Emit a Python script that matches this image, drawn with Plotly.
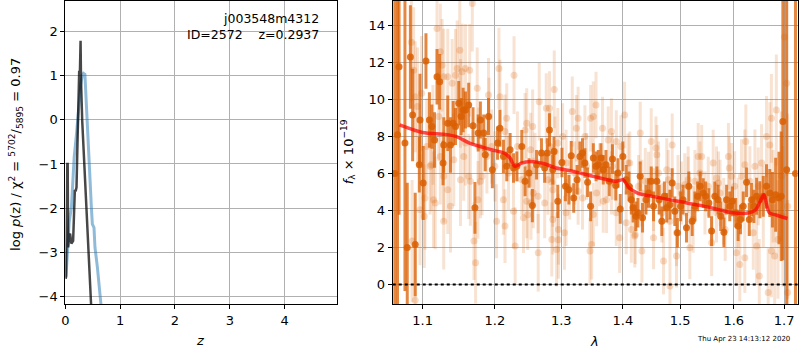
import math
import plotly.graph_objects as go

# ---------------- data: left panel (redshift PDF / chi2) ----------------
pz_blue_z = [0.01, 0.04, 0.07, 0.11, 0.16, 0.203, 0.246, 0.28, 0.307, 0.33, 0.356, 0.387,
             0.42, 0.448, 0.475, 0.492, 0.51, 0.522, 0.54, 0.584, 0.645, 0.70]
pz_blue = [-3.57, -2.8, -2.3, -1.98, -0.85, -0.32, 0.43, 0.8, 1.0, 1.05, 1.03, 0.14,
           -0.7, -1.53, -2.0, -2.36, -2.4, -2.44, -2.89, -3.34, -4.13, -4.9]
pz_dark_z = [0.005, 0.012, 0.035, 0.042, 0.05, 0.07, 0.086, 0.11, 0.141, 0.16, 0.172, 0.19,
             0.203, 0.225, 0.252, 0.262, 0.277, 0.285, 0.295, 0.307, 0.467, 0.50]
pz_dark = [-3.6, -3.53, -1.0, -1.0, -2.89, -2.6, -2.58, -2.8, -2.74, -2.2, -1.61, -1.6,
           -1.53, -0.3, 1.11, 0.9, 1.79, 0.9, 0.4, -0.02, -4.13, -4.9]
left_xticks = [0, 1, 2, 3, 4]
left_yticks = [-4, -3, -2, -1, 0, 1, 2]

# ---------------- data: right panel (spectrum) ----------------
dark_wave = [
    1.0639, 1.0673, 1.0693, 1.0769, 1.0799, 1.0840, 1.0869, 1.0903, 1.0957, 1.0966,
    1.1008, 1.1045, 1.1091, 1.1124, 1.1160, 1.1193, 1.1229, 1.1275, 1.1284, 1.1339,
    1.1376, 1.1413, 1.1445, 1.1490, 1.1523, 1.1551, 1.1583, 1.1628, 1.1689, 1.1716,
    1.1762, 1.1793, 1.1840, 1.1862, 1.1909, 1.1964, 1.2040, 1.2074, 1.2125, 1.2174,
    1.2223, 1.2273, 1.2322, 1.2396, 1.2445, 1.2504, 1.2555, 1.2619, 1.2693, 1.2742,
    1.2782, 1.2816, 1.2867, 1.2886, 1.2945, 1.3010, 1.3065, 1.3119, 1.3157, 1.3196,
    1.3250, 1.3294, 1.3336, 1.3375, 1.3418, 1.3467, 1.3511, 1.3555, 1.3592, 1.3636,
    1.3674, 1.3718, 1.3772, 1.3826, 1.3881, 1.3919, 1.3956, 1.4000, 1.4057, 1.4104,
    1.4144, 1.4174, 1.4221, 1.4256, 1.4296, 1.4336, 1.4395, 1.4440, 1.4487, 1.4527,
    1.4586, 1.4626, 1.4673, 1.4718, 1.4760, 1.4817, 1.4857, 1.4904, 1.4951, 1.5009,
    1.5052, 1.5115, 1.5158, 1.5219, 1.5269, 1.5319, 1.5367, 1.5423, 1.5468, 1.5529,
    1.5579, 1.5640, 1.5701, 1.5751, 1.5812, 1.5863, 1.5924, 1.5974, 1.6038, 1.6085,
    1.6130, 1.6184, 1.6249, 1.6302, 1.6348, 1.6393, 1.6447, 1.6512, 1.6579, 1.6644,
    1.6710, 1.6763, 1.6829, 1.6896, 1.6941, 1.6975, 1.7053, 1.7235]
dark_flux = [
    6.0, 8.1, 11.77, 7.65, 2.0, 12.3, 9.17, 2.17, 6.48, 8.9,
    5.49, 12.08, 8.9, 8.54, 7.82, 11.23, 10.96, 6.57, 7.55, 8.72,
    7.55, 8.72, 8.54, 9.8, 9.08, 9.44, 9.44, 9.71, 8.58, 4.15,
    8.19, 8.9, 8.19, 7.02, 9.08, 6.21, 7.65, 8.45, 6.93, 6.39,
    7.29, 6.3, 6.39, 7.46, 5.58, 6.03, 4.27, 6.48, 7.11, 6.3,
    7.11, 8.36, 6.21, 7.19, 4.5, 6.6, 5.31, 5.13, 6.96, 4.68,
    5.67, 6.93, 7.11, 6.57, 5.53, 4.23, 6.84, 6.39, 6.48, 6.84,
    6.21, 6.48, 5.58, 6.79, 5.35, 6.03, 4.09, 6.93, 5.67, 5.31,
    4.59, 4.15, 3.69, 3.88, 5.85, 3.61, 4.59, 4.95, 5.58, 4.23,
    5.58, 4.59, 3.42, 4.77, 4.15, 4.32, 5.49, 3.96, 2.8, 4.23,
    4.59, 3.07, 5.31, 3.42, 4.23, 4.77, 5.31, 4.95, 4.77, 4.41,
    2.89, 4.77, 4.59, 3.69, 2.83, 4.59, 4.23, 4.5, 3.88, 3.16,
    3.52, 4.23, 5.53, 3.52, 4.59, 4.23, 4.77, 4.59, 4.77, 5.31,
    4.95, 4.59, 4.86, 4.68, 4.77, 8.81, 6.21, 6.0]
dark_err = [
    12, 10, 8, 8, 3.5, 2.8, 2.5, 2.8, 1.5, 2.5,
    2.0, 1.5, 1.5, 1.2, 1.5, 1.5, 1.5, 1.2, 1.5, 1.5,
    1.5, 1.2, 1.0, 1.2, 1.0, 1.2, 1.0, 1.2, 1.0, 1.4,
    1.0, 1.0, 1.0, 0.9, 1.0, 1.0, 0.9, 1.0, 0.9, 0.8,
    0.9, 0.8, 0.8, 0.9, 0.8, 0.8, 0.9, 0.8, 0.8, 0.8,
    0.8, 0.9, 0.8, 0.8, 0.9, 0.8, 0.8, 0.8, 0.8, 0.8,
    0.8, 0.8, 0.8, 0.8, 0.8, 0.8, 0.8, 0.8, 0.8, 0.8,
    0.8, 0.8, 0.8, 0.8, 0.8, 0.8, 0.8, 0.8, 0.8, 0.8,
    0.8, 0.8, 0.8, 0.8, 0.8, 0.8, 0.8, 0.8, 0.8, 0.8,
    0.8, 0.8, 0.8, 0.8, 0.8, 0.8, 0.8, 0.8, 0.8, 0.8,
    0.8, 0.8, 0.8, 0.8, 0.8, 0.8, 0.8, 0.8, 0.8, 0.8,
    0.8, 0.8, 0.8, 0.8, 0.8, 0.8, 0.8, 0.8, 0.8, 0.8,
    0.8, 0.8, 0.8, 0.9, 0.9, 0.9, 1.0, 1.0, 1.1, 1.2,
    1.3, 1.5, 2.0, 2.5, 3.5, 7.5, 10, 12]

light_wave = [
    1.0853, 1.0882, 1.0903, 1.0932, 1.0987, 1.1055, 1.1114, 1.1138, 1.1032, 1.0966,
    1.0862, 1.0903, 1.1022, 1.1146, 1.1169, 1.1193, 1.1238, 1.1262, 1.1284, 1.1215,
    1.1284, 1.1284, 1.1339, 1.1376, 1.1339, 1.1399, 1.1445, 1.1468, 1.1504, 1.1514,
    1.1514, 1.1537, 1.1583, 1.1583, 1.1642, 1.1652, 1.1628, 1.1679, 1.1725, 1.1758,
    1.1748, 1.1909, 1.1917, 1.2059, 1.2074, 1.2173, 1.2281, 1.2148, 1.2445, 1.2470,
    1.2559, 1.2659, 1.2767, 1.2816, 1.2890, 1.1793, 1.1817, 1.2025, 1.2125, 1.2148,
    1.2273, 1.2297, 1.2421, 1.2470, 1.2569, 1.2643, 1.2643, 1.2742, 1.2867, 1.2867,
    1.1702, 1.1955, 1.2331, 1.2529, 1.2826, 1.2926, 1.2955, 1.2485, 1.2534, 1.2945,
    1.3021, 1.3173, 1.3266, 1.3238, 1.3375, 1.3467, 1.3511, 1.3555, 1.3662, 1.3755,
    1.3809, 1.3890, 1.4030, 1.4117, 1.2955, 1.3049, 1.3075, 1.3131, 1.3266, 1.3336,
    1.3457, 1.3483, 1.3511, 1.3564, 1.3674, 1.3728, 1.3809, 1.3890, 1.3946, 1.4057,
    1.4144, 1.4203, 1.2852, 1.2901, 1.4296, 1.4487, 1.4569, 1.4586, 1.4857, 1.5330,
    1.5394, 1.5609, 1.4760, 1.4440, 1.5083, 1.4325, 1.4527, 1.4673, 1.4817, 1.4934,
    1.4934, 1.4703, 1.4325, 1.4209, 1.4527, 1.5237, 1.5176, 1.5580, 1.5455, 1.5672,
    1.5022, 1.5145, 1.5269, 1.4817, 1.5897, 1.5915, 1.5958, 1.6235, 1.6215, 1.6413,
    1.6545, 1.6644, 1.6710, 1.6743, 1.6842, 1.7006, 1.7053, 1.6941, 1.7073, 1.5807,
    1.5836, 1.6085, 1.6051, 1.6117, 1.6215, 1.6381, 1.6447, 1.6500, 1.6579, 1.6678,
    1.6743, 1.6808, 1.6875, 1.6975, 1.7073, 1.5709, 1.2852, 1.3075, 1.3212, 1.3402,
    1.3614, 1.3826, 1.3967, 1.4087, 1.4266, 1.4383, 1.4614, 1.4788, 1.4962, 1.5145,
    1.5362, 1.5516, 1.5672, 1.5739, 1.6018, 1.6150, 1.6314, 1.6480, 1.6777, 1.1771,
    1.1886, 1.2000, 1.2199, 1.2396, 1.2594, 1.2793, 1.1238, 1.1421, 1.1559, 1.1101]
light_flux = [
    13.1, 11.59, 10.16, 9.62, 10.34, 7.46, 6.48, 8.09, 4.68, 4.05,
    2.35, -0.85, 3.69, 4.59, 4.41, 13.84, 12.58, 11.86, 11.23, 9.08,
    5.85, 3.42, 5.13, 4.23, 11.23, 10.88, 11.32, 11.68, 12.67, 9.8,
    5.67, 11.5, 11.68, 7.65, 11.59, 5.58, 5.85, 15.2, 1.18, 4.58,
    10.61, 10.25, 9.08, 11.68, 10.16, 8.99, 11.32, 8.27, 8.36, 8.72,
    8.54, 9.89, 9.53, 9.53, 10.55, 5.58, 5.85, 3.42, 4.59, 3.16,
    3.96, 2.08, 3.61, 4.5, 4.95, 4.77, 1.72, 4.41, 5.13, 3.52,
    2.35, 7.46, 7.46, 7.29, 7.46, 1.9, 2.42, 3.77, 4.43, 7.65,
    8.0, 9.35, 8.99, 8.45, 8.0, 8.99, 9.08, 9.71, 8.45, 7.82,
    8.27, 7.73, 9.17, 6.57, 2.98, 2.8, 3.88, 5.22, 5.04, 4.68,
    1.81, 2.17, 3.79, 4.95, 4.5, 4.59, 5.49, 3.88, 2.53, 3.34,
    2.98, 2.62, 2.44, 7.19, 8.19, 7.73, 7.38, 7.02, 7.55, 6.93,
    6.93, 6.57, 6.21, 5.58, 5.4, 4.95, 4.59, 3.88, 3.42, 2.8,
    1.54, 1.27, 1.81, 2.71, 2.53, 3.52, 1.99, 2.26, 4.41, 3.88,
    4.95, 5.31, 5.58, -0.08, 6.93, 6.3, 5.85, 7.73, 6.48, 6.39,
    6.57, 8.0, 7.55, 8.99, 9.44, 13.39, 10.88, 5.85, 4.23, 3.96,
    2.98, 3.88, 1.72, 1.09, 1.45, 2.8, 2.08, 0.46, 4.23, -0.43,
    1.81, 1.54, 2.44, 3.69, -0.43, 5.49, 5.53, 6.57, 6.03, 6.39,
    5.94, 6.39, 7.46, 6.57, 5.31, 5.58, 6.03, 5.67, 5.31, 5.67,
    6.03, 5.31, 5.76, 4.95, 5.31, 5.85, 5.58, 5.31, 4.77, 7.46,
    6.93, 6.39, 6.03, 5.67, 6.21, 5.67, 6.93, 6.75, 6.93, 6.39]
light_err = [
    3.2, 3.4, 3.0, 3.2, 3.1, 2.6, 2.5, 2.7, 2.8, 3.0,
    3.3, 3.2, 2.8, 2.6, 2.5, 2.7, 2.6, 2.5, 2.6, 2.4,
    2.5, 2.6, 2.4, 2.5, 2.6, 2.4, 2.5, 2.6, 2.7, 2.4,
    2.5, 2.6, 2.4, 2.3, 2.5, 2.4, 2.3, 2.6, 2.2, 2.1,
    2.2, 2.0, 2.1, 2.2, 2.0, 1.9, 2.1, 2.0, 2.0, 1.9,
    2.0, 2.1, 1.9, 2.0, 2.1, 2.0, 2.1, 2.0, 1.9, 2.0,
    2.0, 2.1, 1.9, 2.0, 1.9, 2.0, 2.1, 1.9, 2.0, 1.9,
    2.1, 2.0, 1.9, 2.0, 1.9, 2.0, 2.1, 1.9, 2.0, 1.9,
    1.8, 1.9, 1.7, 1.8, 1.7, 1.8, 1.9, 1.8, 1.7, 1.8,
    1.8, 1.7, 1.8, 1.7, 1.9, 2.0, 1.8, 1.7, 1.8, 1.7,
    1.8, 1.9, 1.7, 1.8, 1.7, 1.8, 1.7, 1.8, 1.9, 1.7,
    1.8, 1.7, 2.0, 1.9, 1.7, 1.8, 1.7, 1.6, 1.7, 1.8,
    1.7, 1.8, 1.7, 1.6, 1.7, 1.8, 1.7, 1.6, 1.7, 1.8,
    1.7, 1.8, 1.7, 1.6, 1.7, 1.8, 1.7, 1.8, 1.7, 1.6,
    1.7, 1.6, 1.7, 1.8, 1.8, 1.7, 1.8, 2.0, 1.9, 2.0,
    2.1, 2.2, 2.3, 2.4, 3.0, 4.5, 5.0, 3.5, 5.0, 1.8,
    1.7, 1.9, 1.8, 2.0, 1.9, 2.0, 2.1, 2.0, 2.2, 2.4,
    2.5, 2.8, 3.2, 3.8, 5.0, 1.7, 1.9, 1.8, 1.7, 1.8,
    1.7, 1.8, 1.7, 1.6, 1.7, 1.8, 1.7, 1.6, 1.7, 1.8,
    1.7, 1.6, 1.7, 1.8, 1.9, 2.0, 1.9, 2.1, 2.5, 2.1,
    2.0, 1.9, 2.0, 1.9, 2.0, 1.9, 2.6, 2.5, 2.4, 2.6]

model_wave = [1.070, 1.100, 1.130, 1.146, 1.164, 1.195, 1.214, 1.222, 1.229, 1.234, 1.239,
              1.254, 1.274, 1.292, 1.319, 1.351, 1.389, 1.400, 1.411, 1.425, 1.455, 1.496,
              1.539, 1.572, 1.598, 1.630, 1.643, 1.651, 1.659, 1.664, 1.670, 1.685, 1.707]
model_flux = [8.63, 8.22, 8.12, 8.0, 7.65, 7.29, 7.1, 6.85, 6.39, 6.45, 6.57,
              6.66, 6.53, 6.3, 6.12, 5.85, 5.58, 5.67, 5.22, 4.95, 4.74, 4.5,
              4.27, 4.05, 3.88, 3.88, 4.05, 4.45, 4.86, 4.4, 3.88, 3.75, 3.57]

right_xticks = [1.1, 1.2, 1.3, 1.4, 1.5, 1.6, 1.7]
right_yticks = [0, 2, 4, 6, 8, 10, 12, 14]

obj_name = "j003548m4312"
obj_id = 2572
obj_z = 0.2937
chi2_num, chi2_den, chi2_val = 5702, 5895, 0.97
timestamp = "Thu Apr 23 14:13:12 2020"

# ---------------- figure ----------------
W, H = 800, 350
FONT = "DejaVu Sans"
ORANGE = "217,95,2"

fig = go.Figure()

# left panel
fig.add_trace(go.Scatter(x=pz_blue_z, y=pz_blue, mode="lines",
                         line=dict(color="rgba(31,119,180,0.5)", width=3),
                         xaxis="x", yaxis="y", showlegend=False))
fig.add_trace(go.Scatter(x=pz_dark_z, y=pz_dark, mode="lines",
                         line=dict(color="rgba(0,0,0,0.72)", width=2.5),
                         xaxis="x", yaxis="y", showlegend=False))

# right panel
fig.add_trace(go.Scatter(x=light_wave, y=light_flux, mode="markers",
                         marker=dict(color=f"rgba({ORANGE},0.22)", size=7),
                         error_y=dict(type="data", array=light_err, thickness=3, width=0,
                                      color=f"rgba({ORANGE},0.18)"),
                         xaxis="x2", yaxis="y2", showlegend=False))
fig.add_trace(go.Scatter(x=dark_wave, y=dark_flux, mode="markers",
                         marker=dict(color=f"rgba({ORANGE},0.85)", size=7),
                         error_y=dict(type="data", array=dark_err, thickness=3, width=0,
                                      color=f"rgba({ORANGE},0.75)"),
                         xaxis="x2", yaxis="y2", showlegend=False))
fig.add_trace(go.Scatter(x=model_wave, y=model_flux, mode="lines",
                         line=dict(color="rgba(255,0,0,0.7)", width=3.5, shape="spline",
                                   smoothing=0.8),
                         xaxis="x2", yaxis="y2", showlegend=False))
fig.add_shape(type="line", xref="x2 domain", yref="y2", x0=0, x1=1, y0=0, y1=0,
              line=dict(color="black", width=2, dash="dot"))

PL, PR = 61.7, 334.3
QL, QR = 390.7, 797.5
PT, PB = 1.0, 304.0

axis_common = dict(showline=True, linecolor="black", linewidth=1, mirror=True,
                   ticks="outside", ticklen=4, tickcolor="black", tickwidth=1,
                   showgrid=True, gridcolor="#b0b0b0", gridwidth=1, zeroline=False,
                   tickfont=dict(family=FONT, size=13, color="black"))

ydom = [1 - PB / H, 1 - PT / H]
fig.update_layout(
    width=W, height=H, margin=dict(l=0, r=0, t=0, b=0),
    paper_bgcolor="white", plot_bgcolor="white",
    font=dict(family=FONT, size=13, color="black"),
    xaxis=dict(domain=[PL / W, PR / W], range=[0, 4.95], anchor="y",
               tickvals=left_xticks, **axis_common),
    yaxis=dict(domain=ydom, range=[-4.17, 2.69], anchor="x",
               tickvals=left_yticks, ticktext=[str(v).replace("-", "\u2212") for v in left_yticks],
               **axis_common),
    xaxis2=dict(domain=[QL / W, QR / W], type="log",
                range=[math.log10(1.0612), math.log10(1.7277)], anchor="y2",
                tickvals=right_xticks, ticktext=[f"{v:.1f}" for v in right_xticks],
                **axis_common),
    yaxis2=dict(domain=ydom, range=[-1.05, 15.33], anchor="x2",
                tickvals=right_yticks, **axis_common),
)

def px(x):
    return x / W

def py(y):
    return 1 - y / H

ann = [
    dict(x=px(319), y=py(19), text=obj_name, xanchor="right", yanchor="middle",
         font=dict(size=12.5)),
    dict(x=px(319), y=py(34), text=f"ID={obj_id}\u00a0\u00a0\u00a0\u00a0z={obj_z:.4f}",
         xanchor="right", yanchor="middle", font=dict(size=12.5)),
    dict(x=px(12), y=py(154), textangle=-90, xanchor="center", yanchor="middle",
         text=(f"log <i>p</i>(z) / χ<sup>2</sup> = <sup>{chi2_num}</sup>/<sub>{chi2_den}</sub>"
               f" = {chi2_val:.2f}"), font=dict(size=13)),
    dict(x=px(346), y=py(152), textangle=-90, xanchor="center", yanchor="middle",
         text="<i>f</i><sub>λ</sub> × 10<sup>−19</sup>", font=dict(size=13)),
    dict(x=px(197), y=py(340), text="<i>z</i>", xanchor="center", yanchor="middle",
         font=dict(size=13)),
    dict(x=px(593), y=py(341), text="<i>λ</i>", xanchor="center", yanchor="middle",
         font=dict(size=13)),
    dict(x=px(743), y=py(339), text=timestamp, xanchor="center", yanchor="middle",
         font=dict(size=7)),
]
for a in ann:
    a.update(xref="paper", yref="paper", showarrow=False)
    a["font"] = dict(family=FONT, color="black", size=a["font"]["size"])
fig.update_layout(annotations=ann)

fig.write_html("out.html", config={"displayModeBar": False},
               post_script="document.body.style.margin='0px';document.body.style.overflow='hidden';")
